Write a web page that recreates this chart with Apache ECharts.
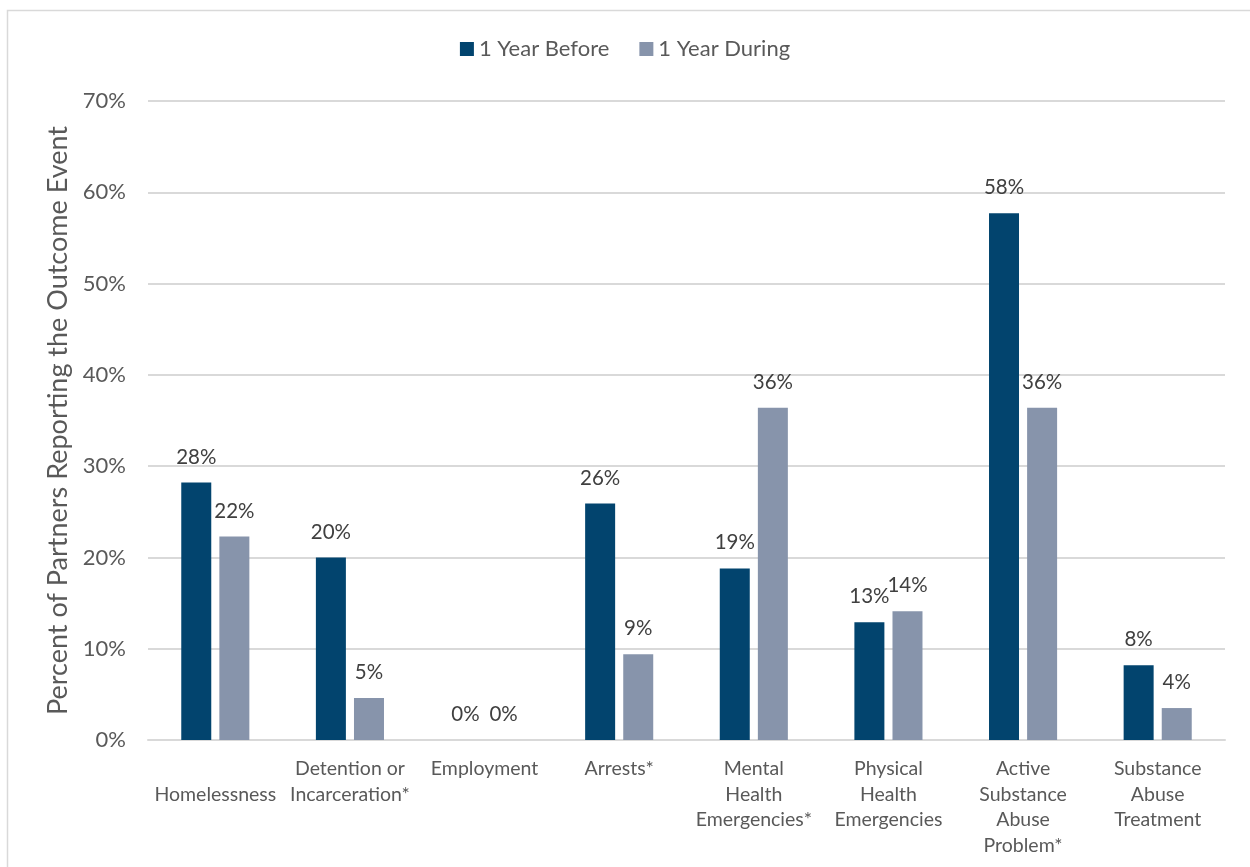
<!DOCTYPE html>
<html>
<head>
<meta charset="utf-8">
<script src="https://cdn.jsdelivr.net/npm/echarts@6/dist/echarts.min.js"></script>
<style>
  html, body { margin: 0; padding: 0; background: #fff; }
  #chart { width: 1250px; height: 867px; }
</style>
</head>
<body>
<div id="chart"></div>
<script>
// Outcome categories (line breaks as they wrap under the axis)
const categories = [
  '\nHomelessness',
  'Detention or\nIncarceration*',
  'Employment',
  'Arrests*',
  'Mental\nHealth\nEmergencies*',
  'Physical\nHealth\nEmergencies',
  'Active\nSubstance\nAbuse\nProblem*',
  'Substance\nAbuse\nTreatment'
];
const seriesNames = ['1 Year Before', '1 Year During'];
// Percent of partners reporting each outcome
const yearBefore = [28.2, 20.0, 0, 25.9, 18.8, 12.9, 57.7, 8.2];
const yearDuring = [22.3, 4.6, 0, 9.4, 36.4, 14.1, 36.4, 3.5];
const yTicks = [0, 10, 20, 30, 40, 50, 60, 70];

const FONT = 'Lato, "Open Sans", sans-serif';
const colors = ['#02446E', '#8794AB'];

const chart = echarts.init(document.getElementById('chart'), null, { renderer: 'canvas' });

const labelStyle = {
  show: true,
  position: 'top',
  distance: 15,
  color: '#404040',
  fontFamily: FONT,
  fontSize: 20.5,
  formatter: p => Math.round(p.value) + '%'
};

chart.setOption({
  backgroundColor: '#fff',
  animation: false,
  graphic: [{
    type: 'rect',
    shape: { x: 7.5, y: 10.5, width: 1260, height: 880 },
    style: { fill: 'none', stroke: '#d9d9d9', lineWidth: 1.5 },
    silent: true
  }],
  legend: {
    top: 33,
    left: 'center',
    itemWidth: 14,
    itemHeight: 14,
    itemGap: 30,
    icon: 'rect',
    textStyle: { color: '#595959', fontFamily: FONT, fontSize: 22, padding: [0, 0, 0, 0] },
    data: seriesNames
  },
  grid: { left: 148, right: 25, top: 101, bottom: 127, containLabel: false },
  xAxis: {
    type: 'category',
    data: categories,
    axisTick: { show: false },
    axisLine: { lineStyle: { color: '#d9d9d9', width: 2 } },
    axisLabel: {
      interval: 0,
      margin: 16,
      color: '#595959',
      fontFamily: FONT,
      fontSize: 19.5,
      lineHeight: 25.5,
      verticalAlign: 'top'
    }
  },
  yAxis: {
    type: 'value',
    min: yTicks[0],
    max: yTicks[yTicks.length - 1],
    interval: 10,
    name: 'Percent of Partners Reporting the Outcome Event',
    nameLocation: 'middle',
    nameGap: 76,
    nameTextStyle: { color: '#595959', fontFamily: FONT, fontSize: 27 },
    axisLine: { show: false },
    axisTick: { show: false },
    splitLine: { lineStyle: { color: '#d9d9d9', width: 2 } },
    axisLabel: {
      margin: 22,
      color: '#595959',
      fontFamily: FONT,
      fontSize: 22,
      formatter: v => v + '%'
    }
  },
  series: [
    {
      name: seriesNames[0],
      type: 'bar',
      data: yearBefore,
      barWidth: 30,
      barGap: '27%',
      itemStyle: { color: colors[0] },
      label: labelStyle
    },
    {
      name: seriesNames[1],
      type: 'bar',
      data: yearDuring,
      barWidth: 30,
      barGap: '27%',
      itemStyle: { color: colors[1] },
      label: labelStyle
    }
  ]
});
</script>
</body>
</html>
